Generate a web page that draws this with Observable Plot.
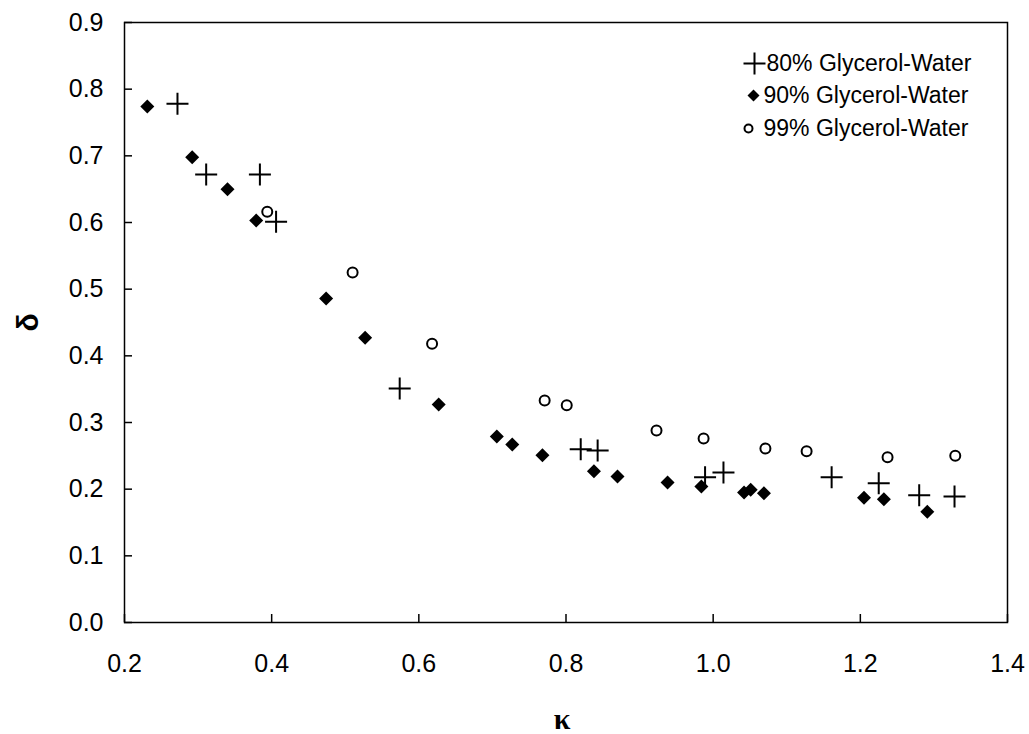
<!DOCTYPE html>
<html>
<head>
<meta charset="utf-8">
<script src="https://cdn.jsdelivr.net/npm/d3@7"></script>
<script src="https://cdn.jsdelivr.net/npm/@observablehq/plot@0.6"></script>
<style>
  html, body { margin: 0; padding: 0; background: #fff; }
  #chart svg { display: block; }
</style>
</head>
<body>
<div id="chart"></div>
<script>
// δ against κ for three glycerol–water mixtures
const kappa80 = [0.272, 0.311, 0.384, 0.406, 0.574, 0.820, 0.843, 0.989, 1.014, 1.161, 1.225, 1.280, 1.328];
const delta80 = [0.778, 0.672, 0.672, 0.601, 0.351, 0.260, 0.258, 0.218, 0.225, 0.218, 0.209, 0.191, 0.189];

const kappa90 = [0.231, 0.292, 0.340, 0.379, 0.474, 0.527, 0.627, 0.706, 0.727, 0.768, 0.838, 0.870, 0.938, 0.984, 1.042, 1.051, 1.069, 1.205, 1.232, 1.291];
const delta90 = [0.774, 0.698, 0.650, 0.603, 0.486, 0.427, 0.327, 0.279, 0.267, 0.251, 0.227, 0.219, 0.210, 0.204, 0.195, 0.199, 0.194, 0.187, 0.185, 0.166];

const kappa99 = [0.394, 0.510, 0.618, 0.771, 0.801, 0.923, 0.987, 1.071, 1.127, 1.237, 1.329];
const delta99 = [0.616, 0.525, 0.418, 0.333, 0.326, 0.288, 0.276, 0.261, 0.257, 0.248, 0.250];

const xTicks = [0.2, 0.4, 0.6, 0.8, 1.0, 1.2, 1.4];
const yTicks = [0.0, 0.1, 0.2, 0.3, 0.4, 0.5, 0.6, 0.7, 0.8, 0.9];
const seriesLabels = ["80% Glycerol-Water", "90% Glycerol-Water", "99% Glycerol-Water"];

const rows = (xs, ys) => xs.map((k, i) => ({kappa: k, delta: ys[i]}));
const data80 = rows(kappa80, delta80);
const data90 = rows(kappa90, delta90);
const data99 = rows(kappa99, delta99);

// Symbols sized so that the dot's r is the half-width of the glyph
const plusSymbol = {
  draw(ctx, size) {
    const r = Math.sqrt(size / Math.PI);
    ctx.moveTo(-r, 0); ctx.lineTo(r, 0);
    ctx.moveTo(0, -r); ctx.lineTo(0, r);
  }
};
const diamondSymbol = {
  draw(ctx, size) {
    const r = Math.sqrt(size / Math.PI);
    ctx.moveTo(0, -r); ctx.lineTo(r, 0); ctx.lineTo(0, r); ctx.lineTo(-r, 0);
    ctx.closePath();
  }
};

const fmt = d => d.toFixed(1);
const font = "'Liberation Sans', Arial, Helvetica, sans-serif";

const W = 1029, H = 734;
const margin = {top: 22, right: 22, bottom: 112, left: 124};
const frameW = W - margin.left - margin.right;
const frameH = H - margin.top - margin.bottom;
const tickLen = 8;

const plusStyle = {symbol: plusSymbol, stroke: "black", strokeWidth: 2, fill: "none"};
const diamondStyle = {symbol: diamondSymbol, fill: "black", stroke: "none"};
const circleStyle = {symbol: "circle", stroke: "black", strokeWidth: 2, fill: "none"};

// Legend rows, anchored to the top-right corner of the frame
const legendRows = [
  {label: seriesLabels[0], style: plusStyle, r: 11, sdx: -253, tdx: -241, dy: 41},
  {label: seriesLabels[1], style: diamondStyle, r: 6, sdx: -254, tdx: -244, dy: 73},
  {label: seriesLabels[2], style: circleStyle, r: 4, sdx: -259, tdx: -244, dy: 106}
];

const legendMarks = legendRows.flatMap(row => [
  Plot.dot([row.label], {frameAnchor: "top-right", dx: row.sdx, dy: row.dy, r: row.r, ...row.style}),
  Plot.text([row.label], {frameAnchor: "top-right", dx: row.tdx, dy: row.dy, text: d => d,
    textAnchor: "start", lineAnchor: "middle", fontSize: 23, fill: "black"})
]);

const chart = Plot.plot({
  width: W,
  height: H,
  marginLeft: margin.left,
  marginRight: margin.right,
  marginTop: margin.top,
  marginBottom: margin.bottom,
  style: {fontFamily: font, fontSize: "25px", color: "black", background: "white", overflow: "visible"},
  x: {domain: [0.2, 1.4]},
  y: {domain: [0, 0.9]},
  marks: [
    // tick labels
    Plot.axisX(xTicks, {tickSize: 0, tickPadding: 32, tickFormat: fmt, label: null, fontSize: 25}),
    Plot.axisY(yTicks, {tickSize: 0, tickPadding: 21, tickFormat: fmt, label: null, fontSize: 25}),
    // short tick marks pointing into the frame
    Plot.ruleX(xTicks, {x: d => d, insetTop: frameH - tickLen, stroke: "black", strokeWidth: 1.5}),
    Plot.ruleY(yTicks, {y: d => d, insetRight: frameW - tickLen, stroke: "black", strokeWidth: 1.5}),
    Plot.frame({stroke: "black", strokeWidth: 1.5}),
    // axis titles
    Plot.text(["δ"], {frameAnchor: "left", dx: -96, rotate: -90, text: d => d,
      textAnchor: "middle", lineAnchor: "middle", fontSize: 30, fontWeight: "bold", fill: "black"}),
    Plot.text(["κ"], {frameAnchor: "bottom", dx: -4, dy: 97, text: d => d,
      textAnchor: "middle", lineAnchor: "middle",
      fontSize: 30, fontWeight: "bold", fontFamily: "'Liberation Serif', serif", fill: "black"}),
    // data
    Plot.dot(data99, {x: "kappa", y: "delta", r: 5, ...circleStyle}),
    Plot.dot(data90, {x: "kappa", y: "delta", r: 7, ...diamondStyle}),
    Plot.dot(data80, {x: "kappa", y: "delta", r: 11, ...plusStyle}),
    ...legendMarks
  ]
});

document.getElementById("chart").appendChild(chart);
</script>
</body>
</html>
